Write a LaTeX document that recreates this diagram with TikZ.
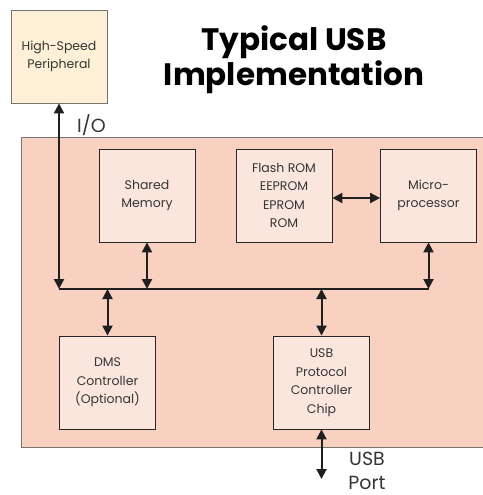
\documentclass[tikz,border=0pt]{standalone}
\usepackage{fontspec}
\setmainfont{Poppins}
\usepackage{tikz}
\usetikzlibrary{arrows.meta}

\definecolor{chipbg}{HTML}{F8D1C1}
\definecolor{boxbg}{HTML}{FBE6DD}
\definecolor{perbg}{HTML}{FDF0D6}
\definecolor{txt}{HTML}{353535}

\tikzset{
  blk/.style={draw=black!85, fill=boxbg, line width=0.8pt, minimum width=96pt, minimum height=93pt,
    inner sep=0pt, align=center, text=txt, font=\fontsize{12.5}{18.5}\selectfont},
  bus/.style={line width=2pt, draw=black!88},
  link/.style={bus, {Triangle[length=10pt,width=10pt]}-{Triangle[length=10pt,width=10pt]}}
}

\begin{document}
\begin{tikzpicture}[x=1pt,y=-1pt]
	\useasboundingbox (0,0) rectangle (482,495);
	% chip area
	\draw[fill=chipbg, draw=black!55, line width=1pt] (21,137) rectangle (484,447);
	% peripheral
	\node [blk, fill=perbg, draw=black!55] (periph) at (59,56.5) {High-Speed\\Peripheral};
	\node [font=\fontsize{31}{35}\selectfont\bfseries, align=center, text=black] (title) at (294,60) {Typical USB\\Implementation};
	
	\node [blk] (shared) at (147,195.5) {Shared\\Memory};
	\node [blk] (flash) at (284,195.5) {Flash ROM\\EEPROM\\EPROM\\ROM};
	\node [blk] (micro) at (428.5,195.5) {Micro-\\processor};
	\node [blk] (dms) at (107.5,382.5) {DMS\\Controller\\(Optional)};
	\node [blk] (usb) at (321.5,382.5) {USB\\Protocol\\Controller\\Chip};
	
	% bus
	\coordinate (busL) at (59,289);
	\coordinate (busR) at (428.5,289);
	\coordinate (port) at (321.5,479);
	\draw [bus] (busL) -- (busR);
	
	\draw [link] (periph.south) -- (busL);
	\node [text=txt, font=\fontsize{19}{22}\selectfont, anchor=west, inner sep=0pt] (io) at (77,125) {I/O};
	\draw [link] (shared.south) -- (shared.south |- busL);
	\draw [link] (micro.south) -- (micro.south |- busR);
	\draw [link] ([yshift=-2.5pt]flash.east) -- ([yshift=-2.5pt]micro.west);
	\draw [link] (dms.north |- busL) -- (dms.north);
	\draw [link] (usb.north |- busL) -- (usb.north);
	\draw [link] (usb.south) -- (port);
	\node [text=txt, font=\fontsize{19}{24}\selectfont, align=center, inner sep=0pt] (portlbl) at (367,471) {USB\\Port};
\end{tikzpicture}
\end{document}
